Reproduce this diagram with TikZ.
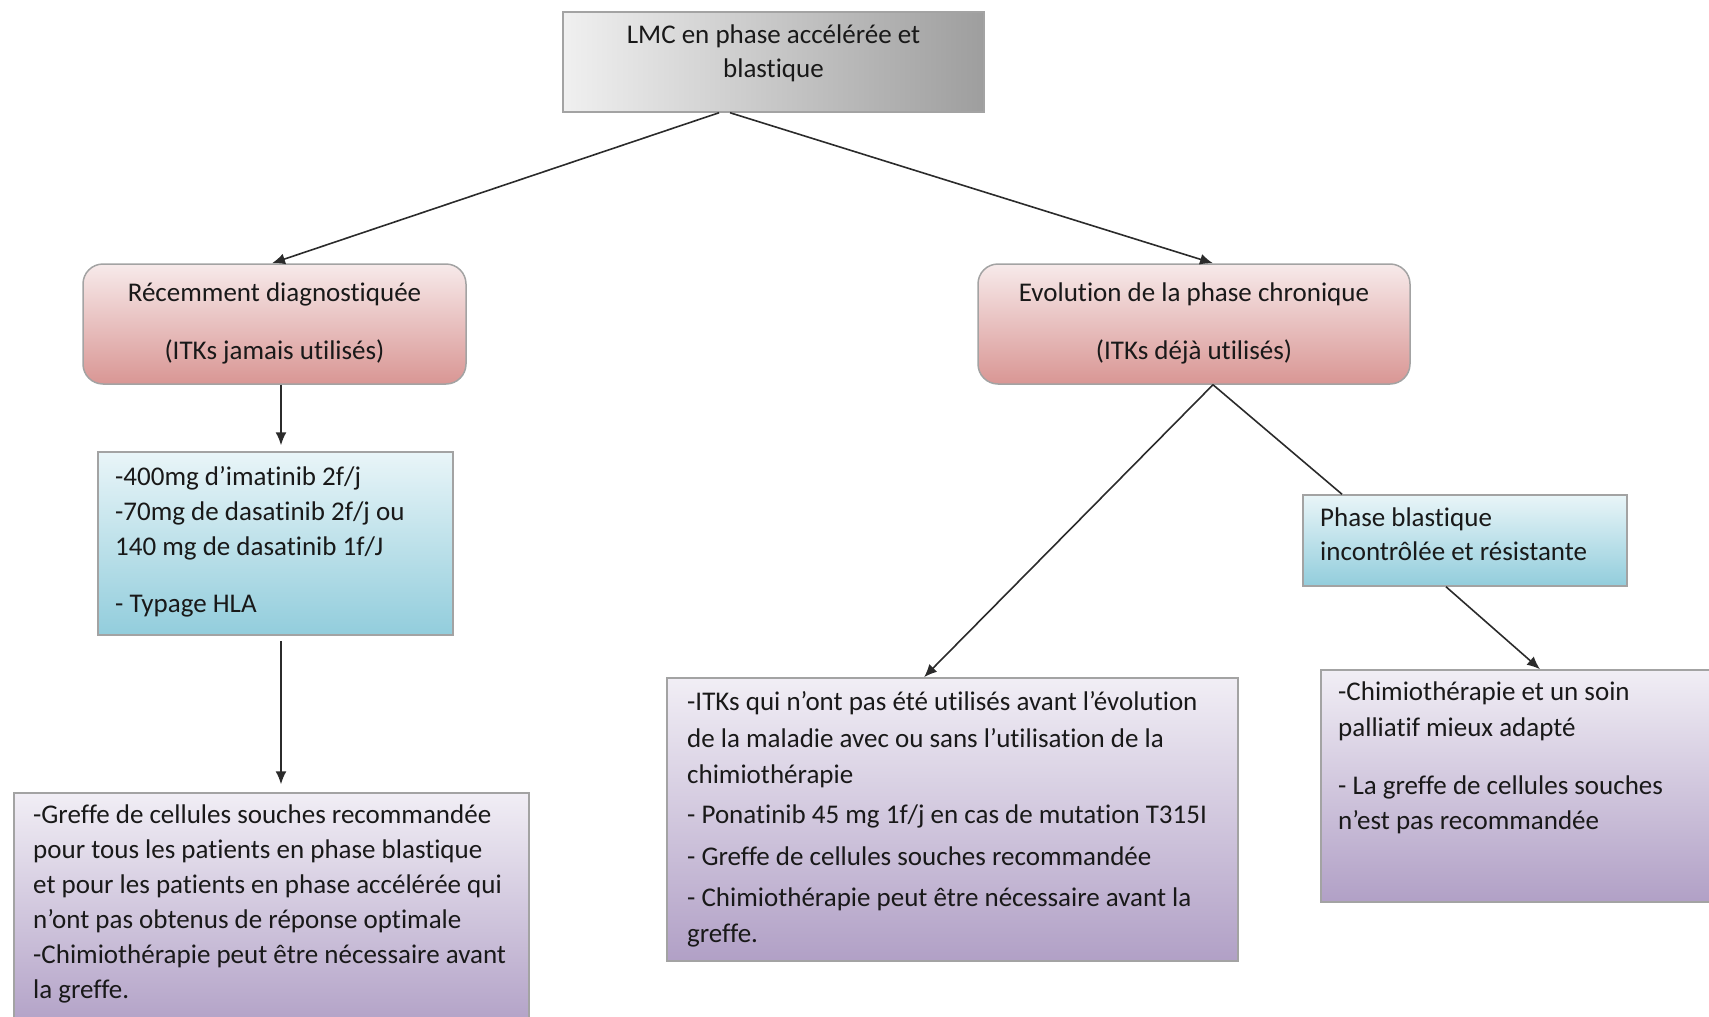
\documentclass[tikz,border=0pt]{standalone}
\usepackage{fontspec}
\setmainfont{Carlito}[Ligatures=NoCommon]
\usetikzlibrary{arrows.meta,calc}
\definecolor{pinkT}{HTML}{F7EAEA}
\definecolor{pinkB}{HTML}{D99694}
\definecolor{blueT}{HTML}{E9F5F8}
\definecolor{blueB}{HTML}{92CDDC}
\definecolor{purT}{HTML}{F1EEF5}
\definecolor{purB}{HTML}{B1A0C6}
\definecolor{grayL}{HTML}{F0F0F0}
\definecolor{grayM}{HTML}{DCDCDC}
\definecolor{grayR}{HTML}{9E9E9E}
\definecolor{edgecol}{HTML}{A3A3A3}
\definecolor{conncol}{HTML}{2B2B2B}
\begin{document}
\begin{tikzpicture}[x=1pt,y=-1pt,
  boxbase/.style={draw=edgecol, line width=1.5pt, inner sep=0pt, rectangle},
  graybox/.style={boxbase, left color=grayL, middle color=grayM, right color=grayR},
  pinkbox/.style={boxbase, rounded corners=20pt, top color=pinkT, bottom color=pinkB},
  bluebox/.style={boxbase, top color=blueT, bottom color=blueB},
  purbox/.style={boxbase, top color=purT, bottom color=purB},
  txt/.style={inner sep=0pt, align=left, anchor=north west, text=black!90,
    font=\fontsize{27}{#1}\selectfont},
  ctxt/.style={inner sep=0pt, align=center, anchor=north, text=black!90,
    font=\fontsize{27}{#1}\selectfont},
  conn/.style={draw=conncol, line width=1.6pt},
  arr/.style={conn, -{Latex[length=13pt,width=11pt]}}
]
\useasboundingbox (0,0) rectangle (1709,1017);
\clip (0,0) rectangle (1709,1017);

% boxes
\node (top)   [graybox, minimum width=421pt, minimum height=100pt] at (773.5,62) {};
\node (pinkL) [pinkbox, minimum width=383pt, minimum height=120pt] at (274.5,324) {};
\node (pinkR) [pinkbox, minimum width=432pt, minimum height=120pt] at (1194,324) {};
\node (blueL) [bluebox, minimum width=355pt, minimum height=183pt] at (275.5,543.5) {};
\node (blueR) [bluebox, minimum width=324pt, minimum height=91pt] at (1465,540.5) {};
\node (purM)  [purbox, minimum width=571pt, minimum height=283pt] at (952.5,819.5) {};
\node (purR)  [purbox, minimum width=399pt, minimum height=232pt] at (1520.5,786) {};
\node (purL)  [purbox, minimum width=515pt, minimum height=237pt] at (271.5,911.5) {};

% texts
\node (topT) [ctxt=34] at (773.5,19.8) {\strut LMC en phase accélérée et\\blastique};
\node (pinkLT) [ctxt=35.5] at (274.5,276.8) {\strut Récemment diagnostiquée\\[22.5pt](ITKs jamais utilisés)};
\node (pinkRT) [ctxt=35.5] at (1194,276.8) {\strut Evolution de la phase chronique\\[22.5pt](ITKs déjà utilisés)};
\node (blueLT) [txt=35] at (115,461.1) {\strut -400mg d’imatinib 2f/j\\-70mg de dasatinib 2f/j ou\\140 mg de dasatinib 1f/J\\[22pt]- Typage HLA};
\node (blueRT) [txt=34] at (1320,502.8) {\strut Phase blastique\\incontrôlée et résistante};
\node (purMT) [txt=36.3] at (687,685.2) {\strut -ITKs qui n’ont pas été utilisés avant l’évolution\\de la maladie avec ou sans l’utilisation de la\\chimiothérapie\\[4pt]- Ponatinib 45 mg 1f/j en cas de mutation T315I\\[5pt]- Greffe de cellules souches recommandée\\[5pt]- Chimiothérapie peut être nécessaire avant la\\greffe.};
\node (purRT) [txt=35.5] at (1338,675.8) {\strut -Chimiothérapie et un soin\\palliatif mieux adapté\\[22.5pt]- La greffe de cellules souches\\n’est pas recommandée};
\node (purLT) [txt=35] at (33,799.1) {\strut -Greffe de cellules souches recommandée\\pour tous les patients en phase blastique\\et pour les patients en phase accélérée qui\\n’ont pas obtenus de réponse optimale\\-Chimiothérapie peut être nécessaire avant\\la greffe.};

% connectors
\draw[arr] ($(top.south)+(-54.5,0)$) -- ($(pinkL.north)+(-2.5,0)$);
\draw[arr] ($(top.south)+(-43.5,0)$) -- ($(pinkR.north)+(19,0)$);
\draw[arr] ($(pinkL.south)+(6.5,0)$) -- ($(blueL.north)+(5.5,-6)$);
\draw[arr] ($(blueL.south)+(5.5,5)$) -- ($(purL.north)+(9.5,-8)$);
\draw[arr] ($(pinkR.south)+(19,0)$) -- ($(purM.north)+(-28.5,0)$);
\draw[conn] ($(pinkR.south)+(19,0)$) -- ($(blueR.north)+(-123,0)$);
\draw[arr] ($(blueR.south)+(-19,0)$) -- ($(purR.north)+(19.5,0)$);
\end{tikzpicture}
\end{document}
